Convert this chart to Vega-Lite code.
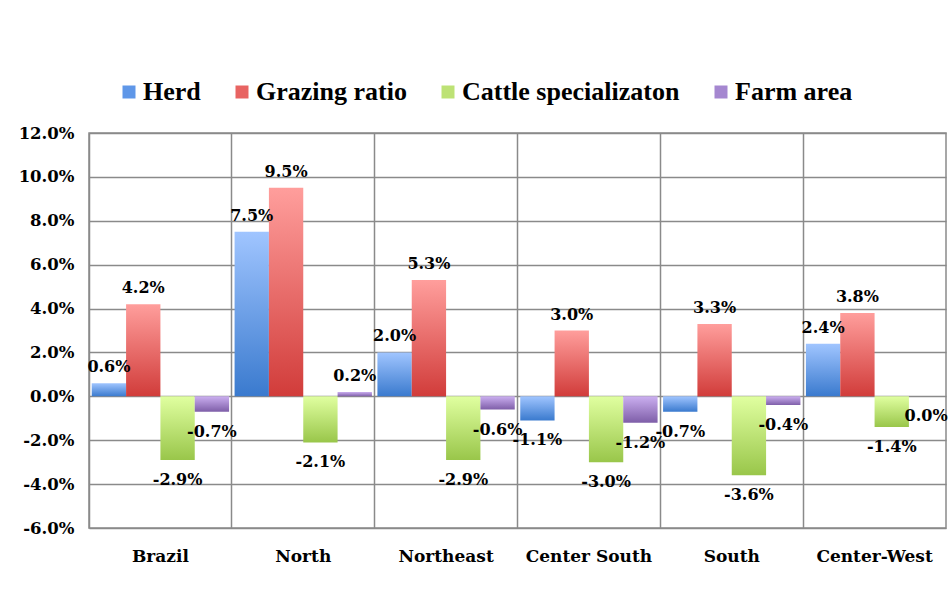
{
  "$schema": "https://vega.github.io/schema/vega-lite/v6.json",
  "width": 857,
  "height": 395,
  "autosize": {"type": "none"},
  "padding": {"left": 89, "top": 133, "right": 5, "bottom": 88},
  "background": "white",
  "config": {
    "view": {"stroke": "#8a8a8a", "strokeWidth": 1.5},
    "font": "DejaVu Serif",
    "locale": {
      "number": {"decimal": ".", "thousands": ",", "grouping": [3], "currency": ["$", ""], "minus": "-", "percent": "%"}
    }
  },
  "data": {
    "values": [
      {"region": "Brazil", "series": "Herd", "value": 0.006},
      {"region": "Brazil", "series": "Grazing ratio", "value": 0.042},
      {"region": "Brazil", "series": "Cattle specializaton", "value": -0.029},
      {"region": "Brazil", "series": "Farm area", "value": -0.007},
      {"region": "North", "series": "Herd", "value": 0.075},
      {"region": "North", "series": "Grazing ratio", "value": 0.095},
      {"region": "North", "series": "Cattle specializaton", "value": -0.021},
      {"region": "North", "series": "Farm area", "value": 0.002},
      {"region": "Northeast", "series": "Herd", "value": 0.020},
      {"region": "Northeast", "series": "Grazing ratio", "value": 0.053},
      {"region": "Northeast", "series": "Cattle specializaton", "value": -0.029},
      {"region": "Northeast", "series": "Farm area", "value": -0.006},
      {"region": "Center South", "series": "Herd", "value": -0.011},
      {"region": "Center South", "series": "Grazing ratio", "value": 0.030},
      {"region": "Center South", "series": "Cattle specializaton", "value": -0.030},
      {"region": "Center South", "series": "Farm area", "value": -0.012},
      {"region": "South", "series": "Herd", "value": -0.007},
      {"region": "South", "series": "Grazing ratio", "value": 0.033},
      {"region": "South", "series": "Cattle specializaton", "value": -0.036},
      {"region": "South", "series": "Farm area", "value": -0.004},
      {"region": "Center-West", "series": "Herd", "value": 0.024},
      {"region": "Center-West", "series": "Grazing ratio", "value": 0.038},
      {"region": "Center-West", "series": "Cattle specializaton", "value": -0.014},
      {"region": "Center-West", "series": "Farm area", "value": 0.0}
    ]
  },
  "encoding": {
    "x": {
      "field": "region",
      "type": "nominal",
      "sort": ["Brazil", "North", "Northeast", "Center South", "South", "Center-West"],
      "scale": {"paddingInner": 0, "paddingOuter": 0},
      "axis": {
        "title": null,
        "labelAngle": 0,
        "labelFont": "DejaVu Serif",
        "labelFontWeight": "bold",
        "labelFontSize": 17,
        "labelColor": "#000000",
        "labelPadding": 20,
        "ticks": false,
        "domain": false,
        "grid": true,
        "bandPosition": 0,
        "gridColor": "#8a8a8a",
        "gridWidth": 1.5
      }
    },
    "xOffset": {
      "field": "series",
      "type": "nominal",
      "sort": ["Herd", "Grazing ratio", "Cattle specializaton", "Farm area"],
      "scale": {"paddingInner": 0, "paddingOuter": 0.08}
    },
    "y": {
      "field": "value",
      "type": "quantitative",
      "scale": {"domain": [-0.06, 0.12], "nice": false, "zero": true},
      "axis": {
        "title": null,
        "values": [-0.06, -0.04, -0.02, 0, 0.02, 0.04, 0.06, 0.08, 0.1, 0.12],
        "format": ".1%",
        "labelFont": "DejaVu Serif",
        "labelFontWeight": "bold",
        "labelFontSize": 16.5,
        "labelColor": "#000000",
        "labelPadding": 15,
        "ticks": false,
        "domain": false,
        "grid": true,
        "gridColor": "#8a8a8a",
        "gridWidth": 1.5
      }
    }
  },
  "layer": [
    {
      "mark": {"type": "bar", "opacity": 0},
      "encoding": {
        "color": {
          "field": "series",
          "type": "nominal",
          "sort": ["Herd", "Grazing ratio", "Cattle specializaton", "Farm area"],
          "scale": {
            "domain": ["Herd", "Grazing ratio", "Cattle specializaton", "Farm area"],
            "range": ["#5f97e8", "#e86462", "#bde275", "#a587d0"]
          },
          "legend": {
            "title": null,
            "orient": "none",
            "direction": "horizontal",
            "legendX": 27,
            "legendY": -54,
            "padding": 0,
            "symbolType": "square",
            "symbolSize": 169,
            "symbolStrokeWidth": 0,
            "symbolOpacity": 1,
            "labelFont": "Liberation Serif",
            "labelFontWeight": "bold",
            "labelFontSize": 26,
            "labelColor": "#000000",
            "labelOffset": 1,
            "columnPadding": 28,
            "labelLimit": 400,
            "encode": {
              "symbols": {
                "update": {
                  "fill": {"signal": "datum.value === 'Herd' ? {gradient: 'linear', x1: 0, y1: 0, x2: 0, y2: 1, stops: [{offset: 0, color: '#a0c5ff'}, {offset: 1, color: '#3a7ace'}]} : datum.value === 'Grazing ratio' ? {gradient: 'linear', x1: 0, y1: 0, x2: 0, y2: 1, stops: [{offset: 0, color: '#ff9e9c'}, {offset: 1, color: '#d13c3a'}]} : datum.value === 'Cattle specializaton' ? {gradient: 'linear', x1: 0, y1: 0, x2: 0, y2: 1, stops: [{offset: 0, color: '#e0ffa0'}, {offset: 1, color: '#99c64a'}]} : {gradient: 'linear', x1: 0, y1: 0, x2: 0, y2: 1, stops: [{offset: 0, color: '#cbaff0'}, {offset: 1, color: '#7e5ea8'}]}"}
                }
              }
            }
          }
        }
      }
    },
    {
      "mark": {"type": "bar"},
      "encoding": {
        "fill": {
          "condition": [
            {"test": "datum.series === 'Herd'", "value": {"gradient": "linear", "x1": 0, "y1": 0, "x2": 0, "y2": 1, "stops": [{"offset": 0, "color": "#a0c5ff"}, {"offset": 1, "color": "#3a7ace"}]}},
            {"test": "datum.series === 'Grazing ratio'", "value": {"gradient": "linear", "x1": 0, "y1": 0, "x2": 0, "y2": 1, "stops": [{"offset": 0, "color": "#ff9e9c"}, {"offset": 1, "color": "#d13c3a"}]}},
            {"test": "datum.series === 'Cattle specializaton'", "value": {"gradient": "linear", "x1": 0, "y1": 0, "x2": 0, "y2": 1, "stops": [{"offset": 0, "color": "#e0ffa0"}, {"offset": 1, "color": "#99c64a"}]}}
          ],
          "value": {"gradient": "linear", "x1": 0, "y1": 0, "x2": 0, "y2": 1, "stops": [{"offset": 0, "color": "#cbaff0"}, {"offset": 1, "color": "#7e5ea8"}]}
        }
      }
    },
    {
      "transform": [{"filter": "datum.value > 0"}],
      "mark": {"type": "text", "baseline": "bottom", "dy": -8, "font": "DejaVu Serif", "fontWeight": "bold", "fontSize": 16, "color": "#000000"},
      "encoding": {
        "text": {"field": "value", "type": "quantitative", "format": ".1%"}
      }
    },
    {
      "transform": [{"filter": "datum.value <= 0"}],
      "mark": {"type": "text", "baseline": "top", "dy": 12, "font": "DejaVu Serif", "fontWeight": "bold", "fontSize": 16, "color": "#000000"},
      "encoding": {
        "text": {"field": "value", "type": "quantitative", "format": ".1%"}
      }
    }
  ]
}
